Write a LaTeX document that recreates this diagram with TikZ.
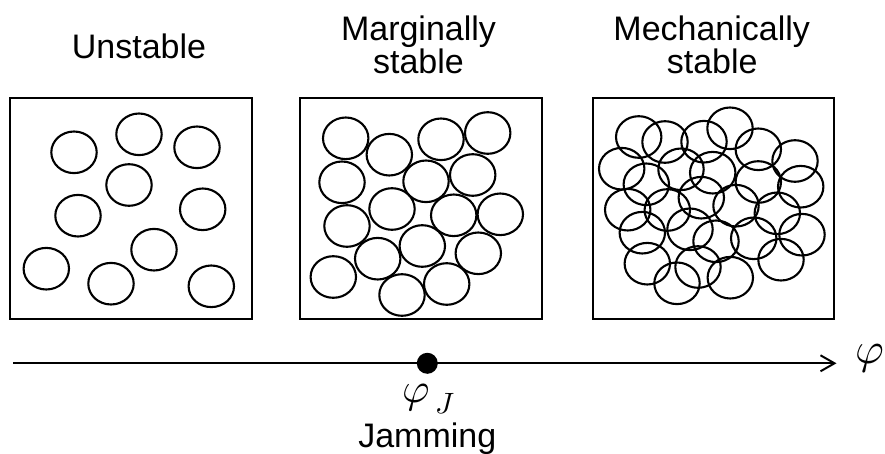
\documentclass[tikz,border=0pt]{standalone}
\usepackage{fontspec}
\usepackage{unicode-math}
\setmainfont{Liberation Sans}
\setmathfont{Latin Modern Math}
\usetikzlibrary{arrows.meta}
\tikzset{
  boxst/.style={draw, line width=2pt, inner sep=0pt, minimum height=221pt},
  particle/.style={line width=2.1pt},
  lbl/.style={anchor=base, inner sep=0pt, font=\fontsize{34}{34}\selectfont},
  mathlbl/.style={inner sep=0pt, font=\fontsize{42}{42}\selectfont},
  axisline/.style={line width=2pt, -{Straight Barb[length=14pt, width=16pt]}},
}
\newcommand{\prt}[2]{\draw[particle] (#1,#2) ellipse [x radius=22.7, y radius=20.8];}
\begin{document}
\begin{tikzpicture}[x=1pt, y=-1pt]
\useasboundingbox (0,0) rectangle (885,454);
% titles
\node[lbl] (t1) at (139,59) {Unstable};
\node[lbl] (t2a) at (418.5,40.5) {Marginally};
\node[lbl] (t2b) at (418.5,73.6) {stable};
\node[lbl] (t3a) at (711.7,40.5) {Mechanically};
\node[lbl] (t3b) at (712.2,73.6) {stable};
% boxes
\node[boxst, minimum width=242pt] (b1) at (131,208.5) {};
\node[boxst, minimum width=242pt] (b2) at (421,208.5) {};
\node[boxst, minimum width=241pt] (b3) at (713.5,208.5) {};
% box 1 particles
\prt{74}{152.3}\prt{139}{134.3}\prt{197}{147.3}\prt{129}{185}\prt{78}{215.7}
\prt{202.7}{209.3}\prt{154}{249.7}\prt{46.3}{268.7}\prt{111}{283.7}\prt{211.3}{286.3}
% box 2 particles
\prt{345.7}{138.3}\prt{389.3}{154.7}\prt{441}{139.3}\prt{487.7}{133}
\prt{342}{182.3}\prt{426}{181.3}\prt{472.7}{175}
\prt{392}{209}\prt{453.7}{215.3}\prt{500.3}{214.3}
\prt{347}{226}\prt{422.3}{246}\prt{377.7}{258.7}\prt{478.3}{253.3}
\prt{333.3}{277}\prt{446.7}{284}\prt{402}{295}
% box 3 particles
\prt{638.7}{137}\prt{665}{142}\prt{704}{141.7}\prt{730}{128.3}\prt{758.3}{149.3}\prt{795}{161}
\prt{621.7}{168.7}\prt{646.3}{184.3}\prt{681}{169.3}\prt{712.7}{172.7}\prt{758.3}{182}\prt{800.7}{186.7}
\prt{627.7}{209.7}\prt{667.3}{210}\prt{701.3}{197.7}\prt{736}{205.7}\prt{777.3}{213.3}
\prt{642.3}{232.7}\prt{690}{229.3}\prt{716}{241.3}\prt{753.7}{238.3}\prt{802}{234.7}
\prt{647.3}{263.7}\prt{698}{267}\prt{677}{283.3}\prt{730.3}{277.7}\prt{781}{259.7}
% axis
\coordinate (a0) at (13,363.3);
\coordinate (a1) at (836.5,363.3);
\draw[axisline] (a0) -- (a1);
\node[circle, fill=black, inner sep=0pt, minimum size=21pt] (J) at (427.3,363.3) {};
\node[mathlbl, font=\fontsize{44}{44}\selectfont] (phi) at (870,359) {$\varphi$};
\node[mathlbl] (phiJ) at (429,399) {$\varphi_{\,J}$};
\node[lbl] (jam) at (427.3,447) {Jamming};
\end{tikzpicture}
\end{document}
